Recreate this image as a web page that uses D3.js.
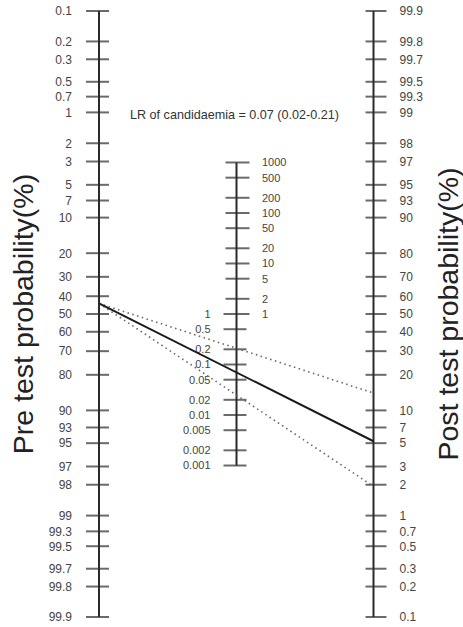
<!DOCTYPE html>
<html>
<head>
<meta charset="utf-8">
<script src="https://cdn.jsdelivr.net/npm/d3@7"></script>
<style>
html,body{margin:0;padding:0;background:#fff;}
svg{display:block;font-family:"Liberation Sans",Arial,Helvetica,sans-serif;}
</style>
</head>
<body>
<svg id="chart" width="463" height="627"></svg>
<script>
// ---- data ----
const preTicks = [0.1,0.2,0.3,0.5,0.7,1,2,3,5,7,10,20,30,40,50,60,70,80,90,93,95,97,98,99,99.3,99.5,99.7,99.8,99.9];
const postTicks = [0.1,0.2,0.3,0.5,0.7,1,2,3,5,7,10,20,30,40,50,60,70,80,90,93,95,97,98,99,99.3,99.5,99.7,99.8,99.9];
const lrTicksUpper = [1000,500,200,100,50,20,10,5,2,1];
const lrTicksLower = [1,0.5,0.2,0.1,0.05,0.02,0.01,0.005,0.002,0.001];
const preTestProb = [44];            // %
const lrPoint = [0.07];
const lrCI = [0.025, 0.21];
const titlePre = "Pre test probability(%)";
const titlePost = "Post test probability(%)";
const lrLabel = "LR of candidaemia = 0.07 (0.02-0.21)";

// ---- layout ----
const W = 463, H = 627;
const xPre = 99, xLR = 236.5, xPost = 373.5;
const yTop = 11, yBot = 617;
const logit = p => Math.log(p/(100-p));
const lmax = logit(99.9);

const yPre = d3.scaleLinear().domain([-lmax, lmax]).range([yTop, yBot]);
const yPost = d3.scaleLinear().domain([-lmax, lmax]).range([yBot, yTop]);
const yMid = (yTop + yBot) / 2;
const halfSpan = (yBot - yTop) / 2;
// LR scale: half the slope of the logit scale (per natural log unit)
const lrHalf = halfSpan / lmax / 2 * Math.log(1000);
const yLR = d3.scaleLog().domain([0.001, 1000]).range([yMid + lrHalf, yMid - lrHalf]);

const svg = d3.select("#chart");
const axisColor = "#2a2a2a", tickColor = "#6a6a6a", labColor = "#444";

function drawAxis(x, scale, values, toVal, left, right, labelSide, labelOffset, fontSize) {
  const g = svg.append("g");
  g.selectAll("line.tick").data(values).join("line")
    .attr("x1", x - left).attr("x2", x + right)
    .attr("y1", d => scale(toVal(d))).attr("y2", d => scale(toVal(d)))
    .attr("stroke", tickColor).attr("stroke-width", 2);
  if (labelSide) {
    g.selectAll("text").data(values).join("text")
      .attr("x", labelSide === "left" ? x - labelOffset : x + labelOffset)
      .attr("y", d => scale(toVal(d)))
      .attr("dy", "0.36em")
      .attr("text-anchor", labelSide === "left" ? "end" : "start")
      .attr("font-size", fontSize)
      .attr("fill", labColor)
      .text(d => d);
  }
  return g;
}

// pre-test axis
drawAxis(xPre, yPre, preTicks, logit, 13, 10, "left", 27, 12);
svg.append("line").attr("x1", xPre).attr("x2", xPre)
  .attr("y1", yPre(logit(0.1))).attr("y2", yPre(logit(99.9)))
  .attr("stroke", axisColor).attr("stroke-width", 2);

// post-test axis
drawAxis(xPost, yPost, postTicks, logit, 8, 13, "right", 26, 12);
svg.append("line").attr("x1", xPost).attr("x2", xPost)
  .attr("y1", yPost(logit(99.9))).attr("y2", yPost(logit(0.1)))
  .attr("stroke", axisColor).attr("stroke-width", 2);

// LR axis
drawAxis(xLR, yLR, lrTicksUpper, d => d, 11, 13, "right", 25.5, 11);
drawAxis(xLR, yLR, lrTicksLower, d => d, 13, 10, "left", 26, 11);
svg.append("line").attr("x1", xLR).attr("x2", xLR)
  .attr("y1", yLR(1000)).attr("y2", yLR(0.001))
  .attr("stroke", axisColor).attr("stroke-width", 2);

// lines
const preL = logit(preTestProb[0]);
const y0 = yPre(preL);
function postY(lr) { return yPost(preL + Math.log(lr)); }
function endPoints(lr) {
  // line passes from pre point through LR point, extended to post axis
  return [[xPre, y0], [xPost, postY(lr)]];
}
const lineGen = d3.line();
svg.selectAll("path.ci").data(lrCI).join("path")
  .attr("d", d => lineGen(endPoints(d)))
  .attr("fill", "none").attr("stroke", "#666").attr("stroke-width", 1.6)
  .attr("stroke-dasharray", "1.5,3.5");
svg.selectAll("path.main").data(lrPoint).join("path")
  .attr("d", d => lineGen(endPoints(d)))
  .attr("fill", "none").attr("stroke", "#1a1a1a").attr("stroke-width", 2);

// titles
svg.append("text")
  .attr("transform", `translate(33,${yMid}) rotate(-90)`)
  .attr("text-anchor", "middle").attr("font-size", 28.5).attr("fill", "#222")
  .text(titlePre);
svg.append("text")
  .attr("transform", `translate(458,${yMid}) rotate(-90)`)
  .attr("text-anchor", "middle").attr("font-size", 28.5).attr("fill", "#222")
  .text(titlePost);

svg.append("text")
  .attr("x", 234.5).attr("y", 119)
  .attr("text-anchor", "middle").attr("font-size", 12.6).attr("fill", "#333")
  .text(lrLabel);
</script>
</body>
</html>
